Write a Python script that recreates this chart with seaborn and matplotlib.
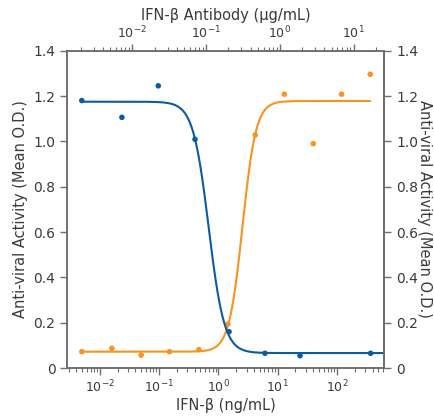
import numpy as np
import pandas as pd
import matplotlib
matplotlib.use("Agg")
import matplotlib.pyplot as plt
import seaborn as sns

# ---- data ----
ifn_conc = [0.005, 0.016, 0.05, 0.15, 0.47, 1.45, 4.2, 13, 40, 120, 365]          # ng/mL (bottom axis)
ifn_od = [0.072, 0.087, 0.057, 0.072, 0.081, 0.194, 1.028, 1.208, 0.99, 1.208, 1.296]

ab_conc = [0.00206, 0.0072, 0.0224, 0.0705, 0.204, 0.626, 1.87, 16.9]             # ug/mL (top axis)
ab_od = [1.18, 1.106, 1.245, 1.009, 0.16, 0.065, 0.054, 0.065]

# 4PL fit parameters (bottom, top, ec50, hill)
ifn_fit = (0.072, 1.178, 2.56, 3.8)
ab_fit = (0.066, 1.175, 0.108, 4.1)

yticks = [0, 0.2, 0.4, 0.6, 0.8, 1.0, 1.2, 1.4]
ytick_labels = ["0", "0.2", "0.4", "0.6", "0.8", "1.0", "1.2", "1.4"]

bottom_xlim = (0.00284, 635)
top_xlim = (0.00131, 26.1)

BLUE = "#0b5c9e"
ORANGE = "#f7931e"
SPINE = "#6f6f6f"
TXT = "#3a3a3a"

sns.set_theme(style="ticks")
plt.rcParams["font.family"] = ["DejaVu Sans"]


def four_pl_up(x, b, t, c, h):
    return b + (t - b) / (1 + (c / x) ** h)


def four_pl_down(x, b, t, c, h):
    return b + (t - b) / (1 + (x / c) ** h)


fig = plt.figure(figsize=(4.35, 4.17), dpi=100)
ax = fig.add_axes([0.1547, 0.1175, 0.7292, 0.7609])
ax2 = ax.twiny()

# orange: IFN-beta dose response on bottom axis
xs_o = np.logspace(np.log10(ifn_conc[0]), np.log10(ifn_conc[-1]), 400)
df_o = pd.DataFrame({"x": xs_o, "y": four_pl_up(xs_o, *ifn_fit)})
sns.lineplot(data=df_o, x="x", y="y", ax=ax, color=ORANGE, lw=1.5)
sns.scatterplot(x=ifn_conc, y=ifn_od, ax=ax, color=ORANGE, s=16, edgecolor="none", zorder=3)

# blue: antibody neutralization on top axis
xs_b = np.logspace(np.log10(ab_conc[0]), np.log10(top_xlim[1]), 400)
df_b = pd.DataFrame({"x": xs_b, "y": four_pl_down(xs_b, *ab_fit)})
sns.lineplot(data=df_b, x="x", y="y", ax=ax2, color=BLUE, lw=1.5)
sns.scatterplot(x=ab_conc, y=ab_od, ax=ax2, color=BLUE, s=16, edgecolor="none", zorder=3)

for a in (ax, ax2):
    a.set_xscale("log")
    a.set_ylim(0, 1.4)
    a.set_ylabel("")
    for s in a.spines.values():
        s.set_color(SPINE)
        s.set_linewidth(1.2)

ax.set_xlim(*bottom_xlim)
ax2.set_xlim(*top_xlim)
ax.set_yticks(yticks)
ax.set_yticklabels(ytick_labels)

ax.set_xlabel("IFN-β (ng/mL)", fontsize=10.5, color=TXT, labelpad=2)
ax2.set_xlabel("IFN-β Antibody (µg/mL)", fontsize=10.5, color=TXT, labelpad=3)
ax.set_ylabel("Anti-viral Activity (Mean O.D.)", fontsize=10.5, color=TXT, labelpad=4)

ax.xaxis.set_major_locator(matplotlib.ticker.LogLocator(base=10, numticks=20))
ax.xaxis.set_minor_locator(matplotlib.ticker.LogLocator(base=10, subs=np.arange(2, 10), numticks=20))
ax2.xaxis.set_major_locator(matplotlib.ticker.LogLocator(base=10, numticks=20))
ax2.xaxis.set_minor_locator(matplotlib.ticker.LogLocator(base=10, subs=np.arange(2, 10), numticks=20))

ax.tick_params(axis="both", which="major", labelsize=10, colors=SPINE, labelcolor=TXT, length=5, width=1)
ax.tick_params(axis="x", which="minor", length=3, width=0.8, colors=SPINE)
ax2.tick_params(axis="x", which="major", labelsize=9, colors=SPINE, labelcolor=TXT, length=5, width=1, pad=2)
ax2.tick_params(axis="x", which="minor", length=3, width=0.8, colors=SPINE)
ax.tick_params(axis="x", which="major", labelsize=9, pad=3)

sec = ax.secondary_yaxis("right")
sec.set_yticks(yticks)
sec.set_yticklabels(ytick_labels)
sec.tick_params(labelsize=10, colors=SPINE, labelcolor=TXT, length=5, width=1)
sec.spines["right"].set_color(SPINE)
sec.spines["right"].set_linewidth(1.2)
sec.set_ylabel("Anti-viral Activity (Mean O.D.)", fontsize=10.5, color=TXT, rotation=270, labelpad=10)

fig.savefig("out.png", dpi=100)
